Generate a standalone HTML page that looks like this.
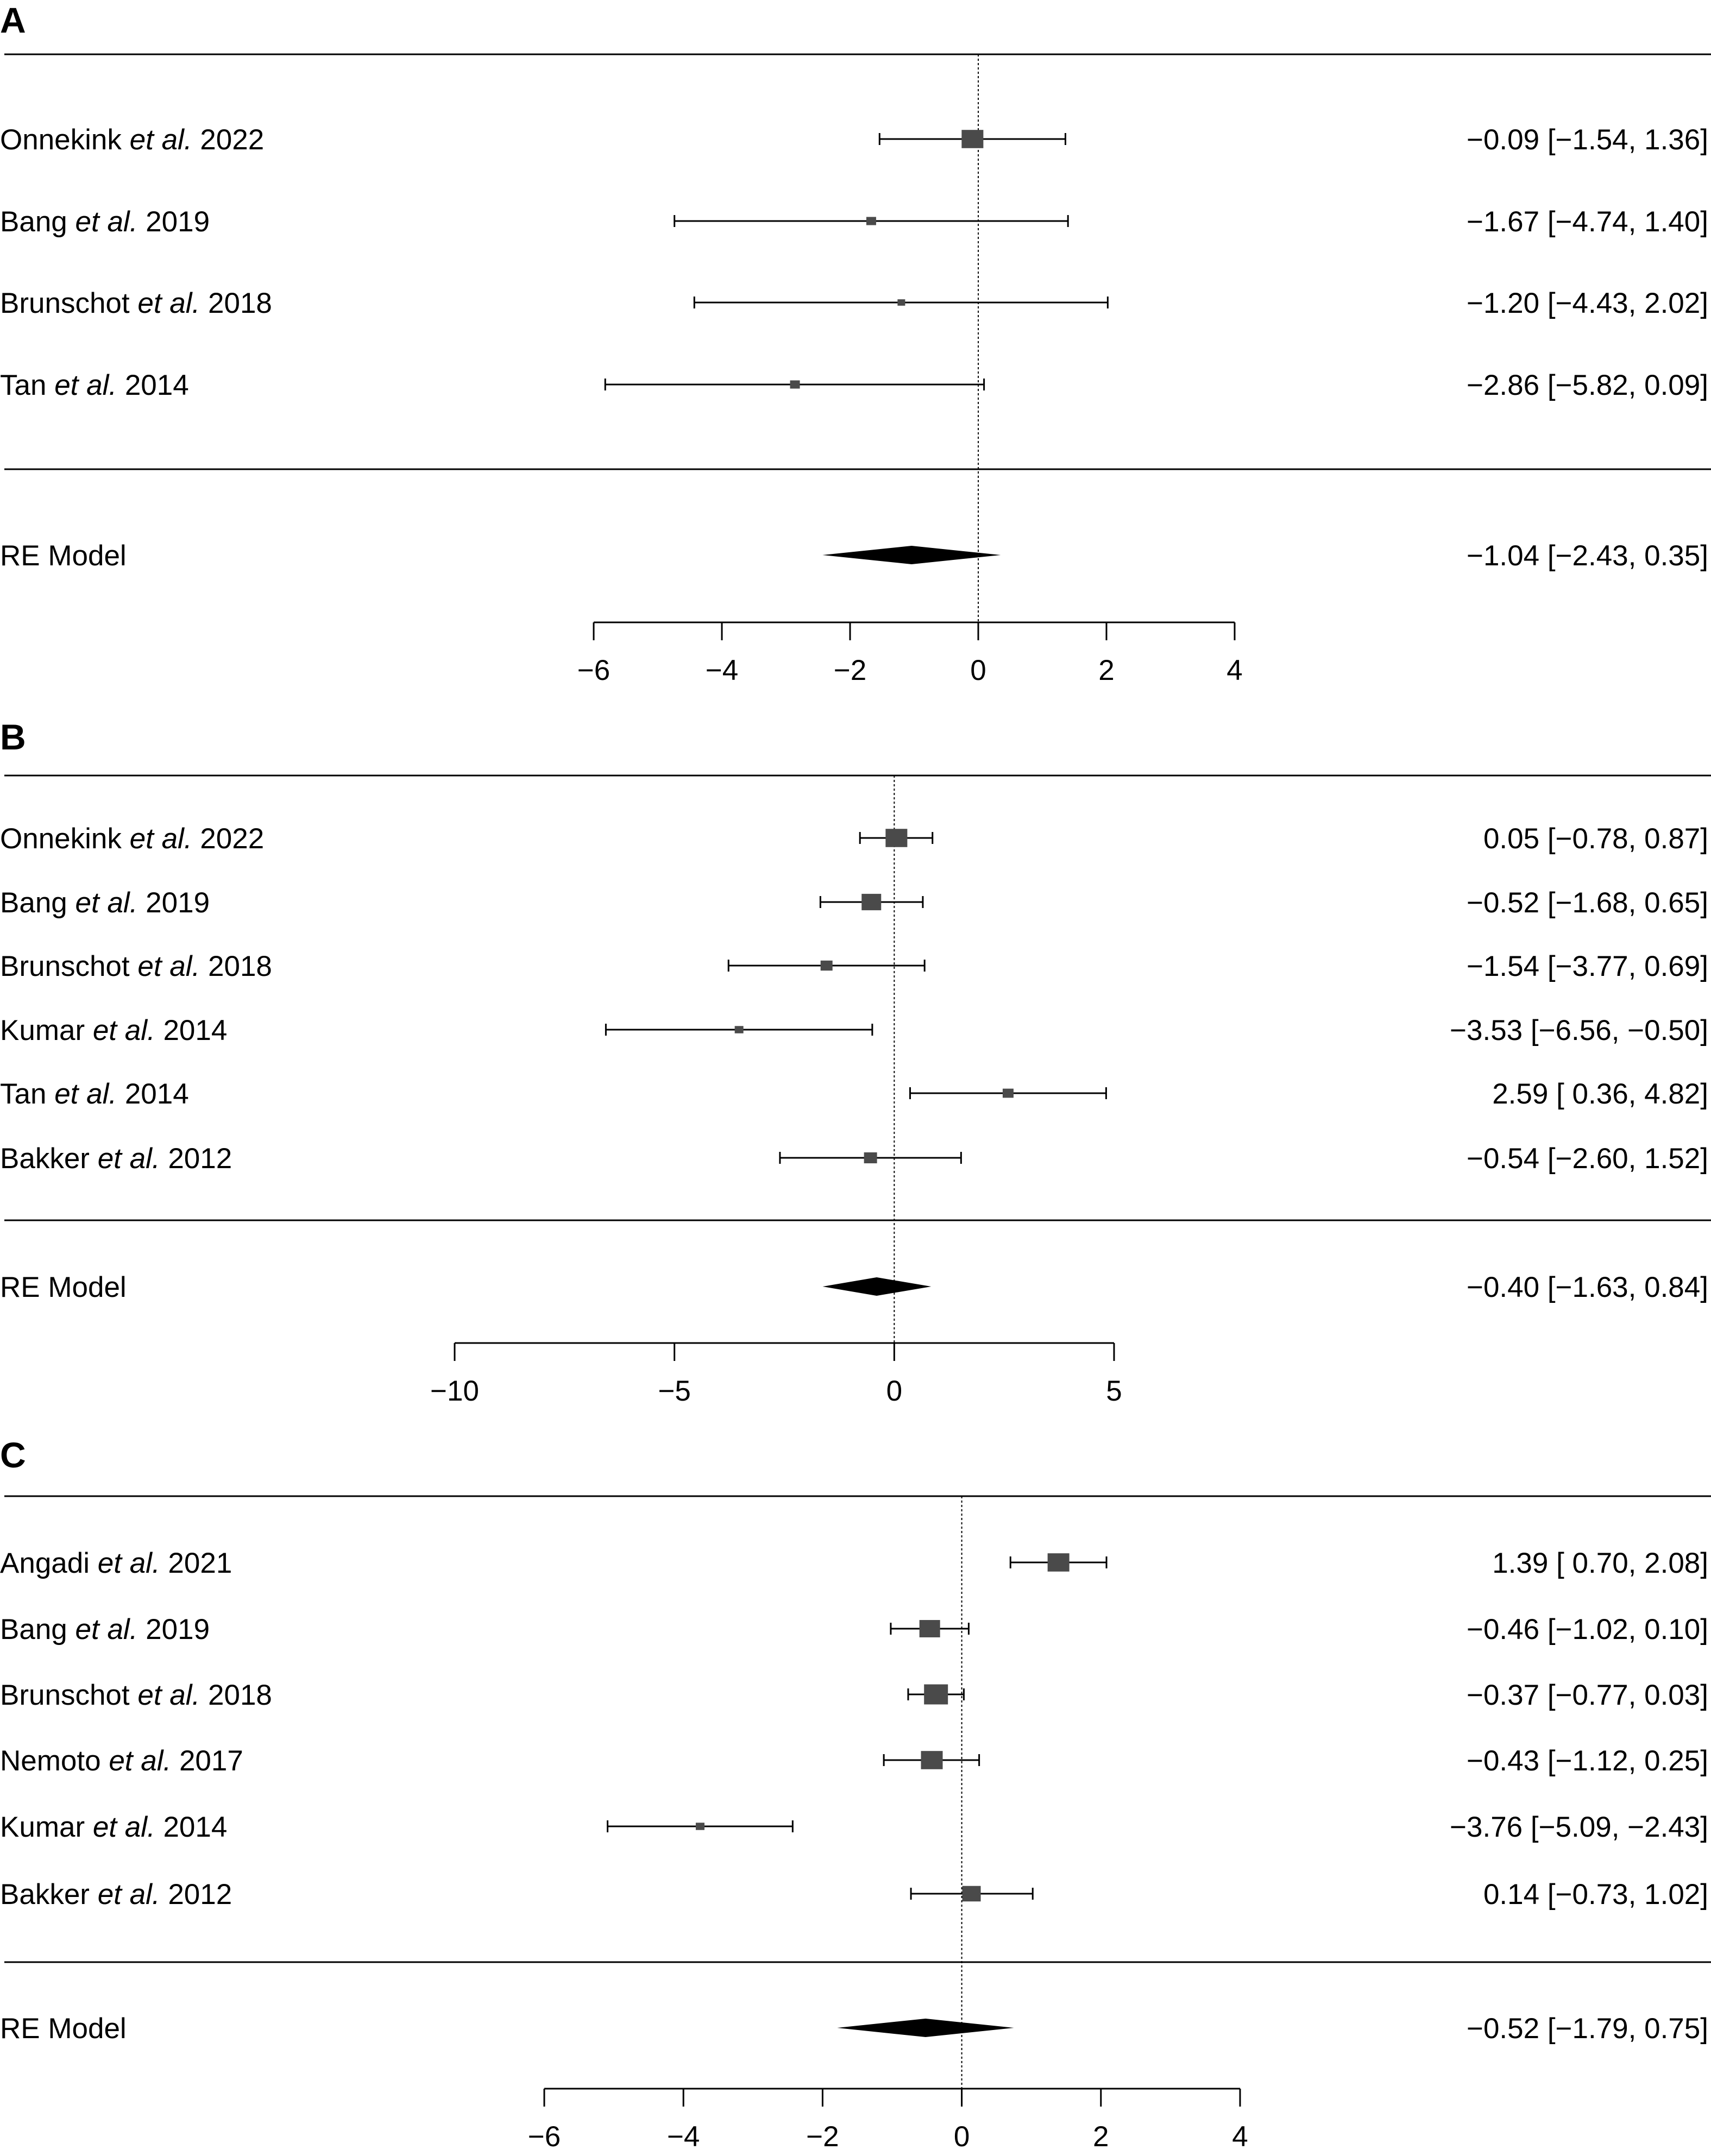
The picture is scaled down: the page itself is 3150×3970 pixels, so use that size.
<!DOCTYPE html>
<html><head><meta charset="utf-8"><style>
html,body{margin:0;padding:0;background:#fff;}
svg{display:block;font-family:"Liberation Sans",sans-serif;}
</style></head><body>
<svg id="chart" width="3150" height="3970" viewBox="0 0 3150 3970" xmlns="http://www.w3.org/2000/svg"></svg>
<script>
// Panel A data
const aAuthors = ["Onnekink","Bang","Brunschot","Tan"];
const aYears = ["2022","2019","2018","2014"];
const aEst = [-0.09,-1.67,-1.20,-2.86];
const aLo = [-1.54,-4.74,-4.43,-5.82];
const aHi = [1.36,1.40,2.02,0.09];
const aWeight = [40,18,14,18];
const aRE = [-1.04,-2.43,0.35];
const aTicks = [-6,-4,-2,0,2,4];
// Panel B data
const bAuthors = ["Onnekink","Bang","Brunschot","Kumar","Tan","Bakker"];
const bYears = ["2022","2019","2018","2014","2014","2012"];
const bEst = [0.05,-0.52,-1.54,-3.53,2.59,-0.54];
const bLo = [-0.78,-1.68,-3.77,-6.56,0.36,-2.60];
const bHi = [0.87,0.65,0.69,-0.50,4.82,1.52];
const bWeight = [40,36,22,16,20,24];
const bRE = [-0.40,-1.63,0.84];
const bTicks = [-10,-5,0,5];
// Panel C data
const cAuthors = ["Angadi","Bang","Brunschot","Nemoto","Kumar","Bakker"];
const cYears = ["2021","2019","2018","2017","2014","2012"];
const cEst = [1.39,-0.46,-0.37,-0.43,-3.76,0.14];
const cLo = [0.70,-1.02,-0.77,-1.12,-5.09,-0.73];
const cHi = [2.08,0.10,0.03,0.25,-2.43,1.02];
const cWeight = [40,38,44,40,16,34];
const cRE = [-0.52,-1.79,0.75];
const cTicks = [-6,-4,-2,0,2,4];

const NS="http://www.w3.org/2000/svg";
const svg=document.getElementById('chart');
function mk(tag,attrs,parent){const e=document.createElementNS(NS,tag);for(const k in attrs)e.setAttribute(k,attrs[k]);(parent||svg).appendChild(e);return e;}
function fmt(v){const s=Math.abs(v).toFixed(2);return v<0?"\u2212"+s:s;}
function fmtCI(e,l,h){const lo=l<0?fmt(l):" "+fmt(l);return fmt(e)+" ["+lo+", "+fmt(h)+"]";}
const FS=53;

function panel(cfg){
  const g=mk('g',{});
  
  
  const x=v=>cfg.x0+(v-cfg.d0)*(cfg.x1-cfg.x0)/(cfg.d1-cfg.d0);
  const lt=mk('text',{x:0,y:cfg.letterY,'font-size':66,'font-weight':'bold',fill:'#000'},g);lt.textContent=cfg.letter;
  
  
  const r1=mk('line',{x1:8,x2:3150,y1:cfg.rule1,y2:cfg.rule1,stroke:'#000','stroke-width':3},g);
  
  
  const r2=mk('line',{x1:8,x2:3150,y1:cfg.rule2,y2:cfg.rule2,stroke:'#000','stroke-width':3},g);
  
  
  const ref=mk('line',{x1:x(0),x2:x(0),y1:cfg.rule1,y2:cfg.axisY,stroke:'#000','stroke-width':2,'stroke-dasharray':'4,4'},g);
  
  
  cfg.authors.forEach((a,i)=>{
    const y=cfg.rows[i];
    const t=mk('text',{x:0,y:y+19,'font-size':FS,fill:'#000'},g);
    
    
    t.appendChild(document.createTextNode(a+" "));
    const it=mk('tspan',{'font-style':'italic'},t);it.textContent="et al.";
    t.appendChild(document.createTextNode(" "+cfg.years[i]));
    const ci=mk('line',{x1:x(cfg.lo[i]),x2:x(cfg.hi[i]),y1:y,y2:y,stroke:'#000','stroke-width':3},g);
    
    
    [cfg.lo[i],cfg.hi[i]].forEach(v=>{
      const c=mk('line',{x1:x(v),x2:x(v),y1:y-11,y2:y+11,stroke:'#000','stroke-width':3},g);
      
      
    });
    const w=cfg.w[i];
    const b=mk('rect',{x:x(cfg.est[i])-w/2,y:y-w*0.42,width:w,height:w*0.84,fill:'#4a4a4a'},g);
    
    
    const rt=mk('text',{x:3145,y:y+19,'font-size':FS,'text-anchor':'end',fill:'#000'},g);
    rt.setAttribute('xml:space','preserve');
    rt.style.whiteSpace='pre';
    rt.textContent=fmtCI(cfg.est[i],cfg.lo[i],cfg.hi[i]);
    
    
  });
  const ry=cfg.reY;
  const t=mk('text',{x:0,y:ry+19,'font-size':FS,fill:'#000'},g);t.textContent="RE Model";
  
  
  const d=mk('polygon',{points:`${x(cfg.re[1])},${ry} ${x(cfg.re[0])},${ry-17} ${x(cfg.re[2])},${ry} ${x(cfg.re[0])},${ry+17}`,fill:'#000'},g);
  
  
  const rt=mk('text',{x:3145,y:ry+19,'font-size':FS,'text-anchor':'end',fill:'#000'},g);
  rt.textContent=fmtCI(cfg.re[0],cfg.re[1],cfg.re[2]);
  
  
  const ax=mk('line',{x1:x(cfg.ticks[0]),x2:x(cfg.ticks[cfg.ticks.length-1]),y1:cfg.axisY,y2:cfg.axisY,stroke:'#000','stroke-width':3},g);
  
  
  cfg.ticks.forEach(v=>{
    const tk=mk('line',{x1:x(v),x2:x(v),y1:cfg.axisY,y2:cfg.axisY+33,stroke:'#000','stroke-width':3},g);
    
    
    const tl=mk('text',{x:x(v),y:cfg.axisY+106,'font-size':FS,'text-anchor':'middle',fill:'#000'},g);
    tl.textContent=v<0?"\u2212"+Math.abs(v):String(v);
    
    
  });
}
panel({letter:'A',letterY:60,rule1:100,rule2:864,rows:[256,407,557,708],reY:1022,axisY:1146,
  x0:1093,x1:2273,d0:-6,d1:4,authors:aAuthors,years:aYears,est:aEst,lo:aLo,hi:aHi,w:aWeight,re:aRE,ticks:aTicks});
panel({letter:'B',letterY:1380,rule1:1428,rule2:2247,rows:[1543,1661,1778,1896,2013,2132],reY:2369,axisY:2473,
  x0:837,x1:2051,d0:-10,d1:5,authors:bAuthors,years:bYears,est:bEst,lo:bLo,hi:bHi,w:bWeight,re:bRE,ticks:bTicks});
panel({letter:'C',letterY:2702,rule1:2755,rule2:3613,rows:[2877,2999,3120,3241,3363,3487],reY:3734,axisY:3846,
  x0:1002,x1:2283,d0:-6,d1:4,authors:cAuthors,years:cYears,est:cEst,lo:cLo,hi:cHi,w:cWeight,re:cRE,ticks:cTicks});
</script>
</body></html>
